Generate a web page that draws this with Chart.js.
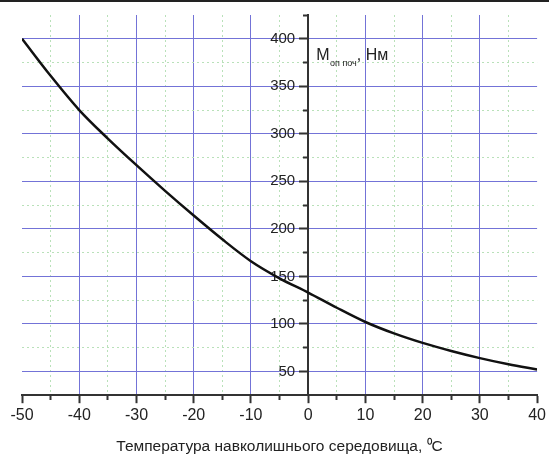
<!DOCTYPE html>
<html>
<head>
<meta charset="utf-8">
<script src="https://cdn.jsdelivr.net/npm/chart.js@4.4.0/dist/chart.umd.min.js"></script>
<style>
html,body{margin:0;padding:0;background:#fff;}
#wrap{position:relative;width:549px;height:459px;}
#topline{position:absolute;left:0;top:0;width:549px;height:2px;background:#222;}
</style>
</head>
<body>
<div id="wrap"><canvas id="c" width="549" height="459"></canvas><div id="topline"></div></div>
<script>
// Data
const temperatures = [-50, -45, -40, -35, -30, -25, -20, -15, -10, -5, 0, 5, 10, 15, 20, 25, 30, 35, 40];
const torque = [400, 361, 325, 295, 267, 240, 214, 189, 166, 148, 133, 117, 102, 90, 80, 71.5, 64, 57.5, 52];
const xTickLabels = [-50, -40, -30, -20, -10, 0, 10, 20, 30, 40];
const yTickLabels = [50, 100, 150, 200, 250, 300, 350, 400];
const xTitle = 'Температура навколишнього середовища, ⁰C';
const yLabelMain = 'М';
const yLabelSub = 'оп поч';
const yLabelUnit = ', Нм';

const points = temperatures.map((t, i) => ({x: t, y: torque[i]}));

const MAJOR = 'rgb(115,115,215)';
const MINOR = 'rgb(185,225,185)';
const AXIS = '#333';
const CLEAR = 'rgba(255,255,255,0)';
const Y_LABEL_GAP = 13;

const isMajorX = v => xTickLabels.includes(v);
const isMajorY = v => yTickLabels.includes(v);

// y axis sits at x = 0; move its tick labels a little left of the tick marks
const yLabelShift = {
  id: 'yLabelShift',
  beforeDraw(chart) {
    const xs = chart.scales.x, ys = chart.scales.y;
    const axisPx = xs.getPixelForValue(0);
    ys.getLabelItems().forEach(it => { it.options.translation[0] = axisPx - Y_LABEL_GAP; });
  }
};

const labelPlugin = {
  id: 'ylabel',
  afterDatasetsDraw(chart) {
    const {ctx, scales: {x, y}} = chart;
    ctx.save();
    ctx.fillStyle = '#222';
    ctx.textBaseline = 'alphabetic';
    ctx.textAlign = 'left';
    let px = x.getPixelForValue(1.4);
    const py = y.getPixelForValue(378);
    ctx.font = '16px "Liberation Sans", Arial, sans-serif';
    ctx.fillText(yLabelMain, px, py);
    px += ctx.measureText(yLabelMain).width + 0.5;
    ctx.font = '9px "Liberation Sans", Arial, sans-serif';
    ctx.fillText(yLabelSub, px, py + 6);
    px += ctx.measureText(yLabelSub).width;
    ctx.font = '16px "Liberation Sans", Arial, sans-serif';
    ctx.fillText(yLabelUnit, px, py);
    ctx.restore();
  }
};

new Chart(document.getElementById('c'), {
  type: 'scatter',
  data: {
    datasets: [{
      data: points,
      showLine: true,
      borderColor: '#111',
      borderWidth: 2.5,
      pointRadius: 0,
      cubicInterpolationMode: 'monotone',
      fill: false
    }]
  },
  plugins: [yLabelShift, labelPlugin],
  options: {
    responsive: false,
    animation: false,
    events: [],
    layout: {padding: {left: 22, right: 10, top: 15, bottom: 3}},
    plugins: {legend: {display: false}, tooltip: {enabled: false}},
    scales: {
      x: {
        type: 'linear',
        position: 'bottom',
        min: -50,
        max: 40,
        afterBuildTicks: s => { const t = []; for (let v = -50; v <= 40; v += 5) t.push({value: v}); s.ticks = t; },
        ticks: {
          autoSkip: false,
          maxRotation: 0,
          padding: 3,
          color: '#222',
          font: {family: '"Liberation Sans", Arial, sans-serif', size: 16},
          callback: v => isMajorX(v) ? String(v) : ''
        },
        grid: {
          color: c => {
            const v = c.tick ? c.tick.value : null;
            if (v === -50 || v === 40) return CLEAR;
            return isMajorX(v) ? MAJOR : MINOR;
          },
          lineWidth: 1,
          drawTicks: true,
          tickLength: 8,
          tickColor: AXIS,
          tickWidth: 2,
          tickBorderDash: c => (c.tick && isMajorX(c.tick.value)) ? [] : [4, 100]
        },
        border: {
          display: true,
          color: AXIS,
          width: 2,
          dash: c => (c.tick && !isMajorX(c.tick.value)) ? [2, 3] : []
        },
        title: {
          display: true,
          text: xTitle,
          color: '#222',
          font: {family: '"Liberation Sans", Arial, sans-serif', size: 15.5},
          padding: {top: 9, bottom: 0}
        }
      },
      y: {
        type: 'linear',
        position: {x: 0},
        min: 25,
        max: 425,
        afterBuildTicks: s => { const t = []; for (let v = 25; v <= 425; v += 25) t.push({value: v}); s.ticks = t; },
        ticks: {
          autoSkip: false,
          padding: 4,
          color: '#222',
          font: {family: '"Liberation Sans", Arial, sans-serif', size: 15},
          callback: v => isMajorY(v) ? String(v) : ''
        },
        grid: {
          color: c => {
            const v = c.tick ? c.tick.value : null;
            if (v === 25 || v === 425) return CLEAR;
            return isMajorY(v) ? MAJOR : MINOR;
          },
          lineWidth: 1,
          drawTicks: true,
          tickLength: 8,
          tickColor: c => (c.tick && c.tick.value === 25) ? CLEAR : AXIS,
          tickWidth: 2,
          tickBorderDash: c => (c.tick && isMajorY(c.tick.value)) ? [] : [4, 100]
        },
        border: {
          display: true,
          color: AXIS,
          width: 2,
          dash: c => (c.tick && !isMajorY(c.tick.value)) ? [2, 3] : []
        }
      }
    }
  }
});
</script>
</body>
</html>
